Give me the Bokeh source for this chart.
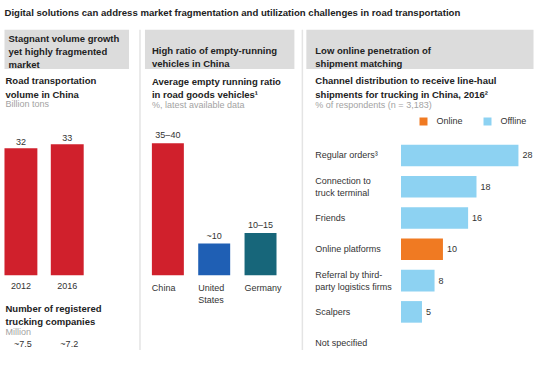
from bokeh.plotting import figure
from bokeh.models import Range1d, ColumnDataSource, Legend, LegendItem
from bokeh.core.properties import value
from bokeh.embed import file_html
from bokeh.resources import INLINE

# ---------------- data ----------------
years = ["2012", "2016"]
volume_bn_tons = [32, 33]
companies_labels = ["~7.5", "~7.2"]

countries = ["China", "United\nStates", "Germany"]
empty_ratio = [37.5, 9, 12]
empty_ratio_labels = ["35–40", "~10", "10–15"]

channels = ["Regular orders³", "Connection to\ntruck terminal", "Friends",
            "Online platforms", "Referral by third-\nparty logistics firms",
            "Scalpers", "Not specified"]
channel_share = [28, 18, 16, 10, 8, 5, None]
channel_type = ["Offline", "Offline", "Offline", "Online", "Offline", "Offline", None]

# ---------------- style ----------------
FONT = "Liberation Sans"
DARK = "#222222"
GREY_TXT = "#a3a3a3"
RED = "#d0202c"
BLUE = "#1f5fb4"
TEAL = "#17667a"
LIGHT_BLUE = "#8dd2f2"
ORANGE = "#f07a22"
BOX = "#dcdcdc"
SEP = "#e4e4e4"

W, H = 534, 350
X0, X1 = 0, 536
Y0, Y1 = 358, 0

p = figure(width=W, height=H, x_range=Range1d(X0, X1), y_range=Range1d(Y0, Y1),
           output_backend="svg", toolbar_location=None, min_border=0,
           x_axis_location=None, y_axis_location=None)
p.grid.visible = False
p.outline_line_color = None
p.background_fill_color = "white"
p.border_fill_color = "white"


def rng(a, b, lo, hi):
    """Range such that data v sits at layout position a + b*v."""
    return Range1d(start=(lo - a) / b, end=(hi - a) / b)


p.extra_x_ranges = {
    "p1x": rng(20.5, 46.5, X0, X1),
    "p2x": rng(168, 46.5, X0, X1),
    "p3x": rng(402, 4.21, X0, X1),
}
p.extra_y_ranges = {
    "p1y": rng(281, -130 / 32, Y0, Y1),
    "p2y": rng(281, -3.6, Y0, Y1),
    "p3y": rng(158.5, 32, Y0, Y1),
}


def txt(x, y, t, size="9px", bold=False, color=DARK, align="left", baseline="middle", **kw):
    p.text(x=x, y=y, text=t, text_font=value(FONT), text_font_size=size,
           text_font_style="bold" if bold else "normal", text_color=color,
           text_align=align, text_baseline=baseline, **kw)


# title
txt([4], [12], ["Digital solutions can address market fragmentation and utilization challenges in road transportation"],
    size="9.6px", bold=True)

# header boxes and separators
p.quad(left=[4, 145, 307], right=[129, 295, 535], top=[30, 30, 30], bottom=[70, 70, 70],
       fill_color=BOX, line_color=None)
p.segment(x0=[140, 303], y0=[30, 30], x1=[140, 303], y1=[358, 358], line_color=SEP, line_width=1.5)

txt([8], [52], ["Stagnant volume growth\nyet highly fragmented\nmarket"], size="9.5px", bold=True)
txt([152], [58], ["High ratio of empty-running\nvehicles in China"], size="9.5px", bold=True)
txt([316], [58], ["Low online penetration of\nshipment matching"], size="9.5px", bold=True)

# sub titles
txt([5], [89], ["Road transportation\nvolume in China"], size="9.5px", bold=True)
txt([5], [106], ["Billion tons"], size="9px", color=GREY_TXT)
txt([152], [89.5], ["Average empty running ratio\nin road goods vehicles¹"], size="9.5px", bold=True)
txt([152], [107], ["%, latest available data"], size="9px", color=GREY_TXT)
txt([316], [89], ["Channel distribution to receive line-haul\nshipments for trucking in China, 2016²"],
    size="9.5px", bold=True)
txt([316], [107], ["% of respondents (n = 3,183)"], size="9px", color=GREY_TXT)

# ---------- panel 1 ----------
idx1 = list(range(len(years)))
p.vbar(x=idx1, top=volume_bn_tons, bottom=0, width=0.71, fill_color=RED, line_color=None,
       x_range_name="p1x", y_range_name="p1y")
p.text(x=idx1, y=volume_bn_tons, text=[str(v) for v in volume_bn_tons], x_range_name="p1x",
       y_range_name="p1y", text_font=value(FONT), text_font_size="9px", text_color="#333333",
       text_align="center", text_baseline="bottom", y_offset=-3)
p.text(x=idx1, y=[0] * len(years), text=years, x_range_name="p1x", y_range_name="p1y",
       text_font=value(FONT), text_font_size="9px", text_color="#333333",
       text_align="center", text_baseline="top", y_offset=8)
txt([5], [322], ["Number of registered\ntrucking companies"], size="9.5px", bold=True)
txt([5], [339], ["Million"], size="9px", color=GREY_TXT)
p.text(x=idx1, y=[351] * len(years), text=companies_labels, x_range_name="p1x",
       text_font=value(FONT), text_font_size="9px", text_color="#333333",
       text_align="center", text_baseline="middle", x_offset=2)

# ---------- panel 2 ----------
idx2 = list(range(len(countries)))
p.vbar(x=idx2, top=empty_ratio, bottom=0, width=0.69, fill_color=[RED, BLUE, TEAL], line_color=None,
       x_range_name="p2x", y_range_name="p2y")
p.text(x=idx2, y=empty_ratio, text=empty_ratio_labels, x_range_name="p2x", y_range_name="p2y",
       text_font=value(FONT), text_font_size="9px", text_color="#333333",
       text_align="center", text_baseline="bottom", y_offset=-3)
p.text(x=idx2, y=[0] * len(countries), text=countries, x_range_name="p2x", y_range_name="p2y",
       text_font=value(FONT), text_font_size="9px", text_color="#333333",
       text_align="left", text_baseline="top", y_offset=8, x_offset=-16)

# ---------- panel 3 ----------
rows = list(range(len(channels)))
on = [(i, v) for i, (v, t) in enumerate(zip(channel_share, channel_type)) if t == "Online"]
off = [(i, v) for i, (v, t) in enumerate(zip(channel_share, channel_type)) if t == "Offline"]
src_on = ColumnDataSource(dict(y=[i for i, _ in on], v=[v for _, v in on]))
src_off = ColumnDataSource(dict(y=[i for i, _ in off], v=[v for _, v in off]))
r_off = p.hbar(y="y", right="v", left=0, height=0.69, source=src_off, fill_color=LIGHT_BLUE,
               line_color=None, x_range_name="p3x", y_range_name="p3y")
r_on = p.hbar(y="y", right="v", left=0, height=0.69, source=src_on, fill_color=ORANGE,
              line_color=None, x_range_name="p3x", y_range_name="p3y")
vals = [(i, v) for i, v in enumerate(channel_share) if v is not None]
p.text(x=[v for _, v in vals], y=[i for i, _ in vals], text=[str(v) for _, v in vals],
       x_range_name="p3x", y_range_name="p3y", text_font=value(FONT), text_font_size="9px",
       text_color="#333333", text_align="left", text_baseline="middle", x_offset=4)
p.text(x=[316] * len(channels), y=rows, text=channels, y_range_name="p3y",
       text_font=value(FONT), text_font_size="9px", text_color="#333333",
       text_align="left", text_baseline="middle")

# legend position (screen px from frame bottom-left)
leg_x = 420 * W / (X1 - X0)
leg_y = H - 129 * H / (Y0 - Y1)
legend = Legend(items=[LegendItem(label="Online", renderers=[r_on]),
                       LegendItem(label="Offline", renderers=[r_off])],
                orientation="horizontal", location=(leg_x, leg_y), padding=0, margin=0,
                spacing=20, glyph_width=10, glyph_height=10, label_height=10,
                label_standoff=8, label_text_font=FONT, label_text_font_size="9px",
                label_text_color="#333333", border_line_color=None,
                background_fill_alpha=0)
p.add_layout(legend, "center")

open("out.html", "w").write(file_html(p, INLINE))
